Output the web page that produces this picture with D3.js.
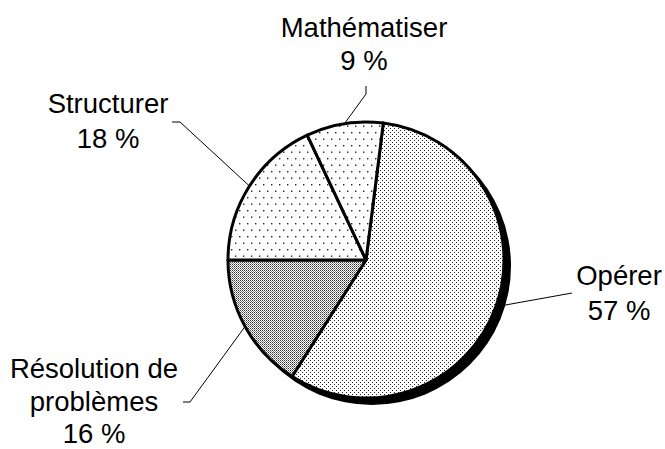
<!DOCTYPE html>
<html>
<head>
<meta charset="utf-8">
<script src="https://cdn.jsdelivr.net/npm/d3@7"></script>
<style>
  html, body { margin: 0; padding: 0; background: #fff; }
  svg { display: block; }
  text { font-family: "Liberation Sans", Arial, sans-serif; fill: #000; }
</style>
</head>
<body>
<script>
// Répartition des activités
const categories = ["Opérer", "Résolution de problèmes", "Structurer", "Mathématiser"];
const values = [57, 16, 18, 9];
const labelLines = [["Opérer", "57 %"], ["Résolution de", "problèmes", "16 %"], ["Structurer", "18 %"], ["Mathématiser", "9 %"]];
const fills = ["url(#dotsFine)", "url(#dotsDense)", "url(#dotsSparse)", "url(#dotsSparse)"];

const W = 665, H = 449;
const cx = 366, cy = 260, R = 138;
const startDeg = 7.2;

const svg = d3.select("body").append("svg").attr("width", W).attr("height", H);
const defs = svg.append("defs");

// fine staggered dots
const pFine = defs.append("pattern").attr("id", "dotsFine").attr("patternUnits", "userSpaceOnUse")
  .attr("width", 4).attr("height", 4);
pFine.append("rect").attr("width", 4).attr("height", 4).attr("fill", "#fff");
[[0, 0], [2, 2]].forEach(([x, y]) => pFine.append("rect").attr("x", x).attr("y", y).attr("width", 1).attr("height", 1).attr("fill", "#222"));

// dense grey dots
const pDense = defs.append("pattern").attr("id", "dotsDense").attr("patternUnits", "userSpaceOnUse")
  .attr("width", 4).attr("height", 4);
pDense.append("rect").attr("width", 4).attr("height", 4).attr("fill", "#fff");
[[0, 0], [2, 0], [0, 2], [2, 2]].forEach(([x, y]) => pDense.append("rect").attr("x", x).attr("y", y).attr("width", 1).attr("height", 1).attr("fill", "#333"));
[[1, 1], [3, 3], [1, 3], [3, 1]].forEach(([x, y]) => pDense.append("rect").attr("x", x).attr("y", y).attr("width", 1).attr("height", 1).attr("fill", "#888"));

// sparse dots
const pSparse = defs.append("pattern").attr("id", "dotsSparse").attr("patternUnits", "userSpaceOnUse")
  .attr("width", 8).attr("height", 13);
pSparse.append("rect").attr("width", 8).attr("height", 13).attr("fill", "#fff");
[[1, 2], [5, 8.5]].forEach(([x, y]) => pSparse.append("rect").attr("x", x).attr("y", y).attr("width", 1.4).attr("height", 1.4).attr("fill", "#222"));

const pie = d3.pie().sort(null).value(d => d)
  .startAngle(startDeg * Math.PI / 180)
  .endAngle(startDeg * Math.PI / 180 + 2 * Math.PI);
const arcs = pie(values);
const arc = d3.arc().innerRadius(0).outerRadius(R);

const g = svg.append("g").attr("transform", `translate(${cx},${cy})`);

// shadow
g.append("circle").attr("cx", 6).attr("cy", 6).attr("r", R + 1).attr("fill", "#000");

g.selectAll("path.slice").data(arcs).enter().append("path")
  .attr("class", "slice")
  .attr("d", arc)
  .attr("fill", (d, i) => fills[i])
  .attr("stroke", "#000")
  .attr("stroke-width", 3)
  .attr("stroke-linejoin", "round");

// leader lines: from slice edge midpoint to label anchor
const leaderEnds = [
  [[572, 293]],
  [[190, 402], [183, 402]],
  [[180, 122], [172, 122]],
  [[366, 94], [366, 86]]
];
arcs.forEach((d, i) => {
  const a = (d.startAngle + d.endAngle) / 2;
  const p0 = [cx + R * Math.sin(a), cy - R * Math.cos(a)];
  const pts = [p0, ...leaderEnds[i]];
  svg.append("path").attr("d", d3.line()(pts)).attr("fill", "none").attr("stroke", "#000").attr("stroke-width", 1);
});

// labels
const labelPos = [[619, 285], [94, 378], [108, 113], [364, 37]];
const lineH = [35, 32.5, 35, 33];
labelLines.forEach((lines, i) => {
  const t = svg.append("text").attr("text-anchor", "middle").attr("font-size", 27.5);
  lines.forEach((s, k) => t.append("tspan").attr("x", labelPos[i][0]).attr("y", labelPos[i][1] + k * lineH[i]).text(s));
});
</script>
</body>
</html>
